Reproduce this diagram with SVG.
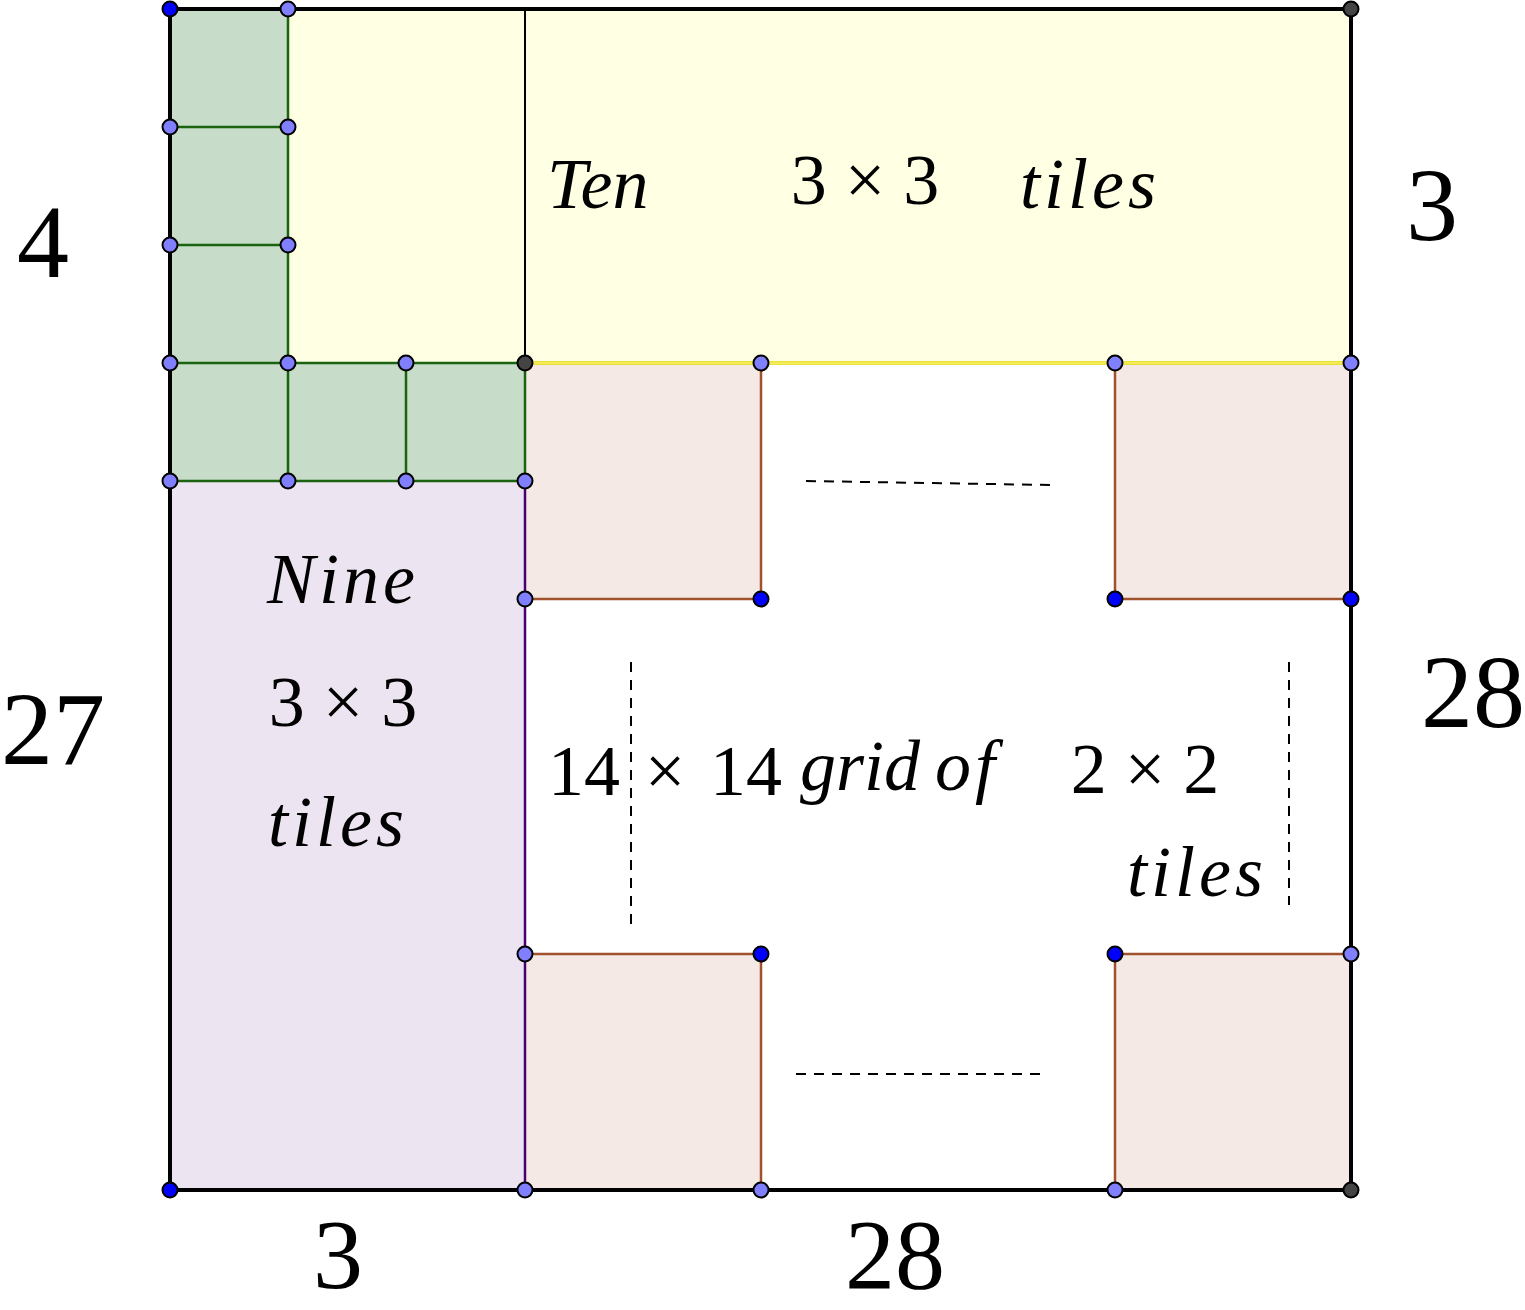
<svg xmlns="http://www.w3.org/2000/svg" width="1525" height="1310" viewBox="0 0 1525 1310">
<style>
.big{font-family:"Liberation Serif","DejaVu Serif",serif;font-size:104px;fill:#000}
.bot{font-size:100px}
.mid{font-family:"Liberation Serif","DejaVu Serif",serif;font-size:72px;fill:#000}
.it{font-style:italic}
.sp{letter-spacing:4px}
.pt{stroke:#000;stroke-width:2}
.lb{fill:#8080ff}
.db{fill:#0000ff}
.dg{fill:#444}
.gr{stroke:#1a6410;stroke-width:2.5;fill:none}
.br{stroke:#a0522d;stroke-width:2.5;fill:none}
.dash{stroke:#000;stroke-width:2;stroke-dasharray:10 8;fill:none}
</style>
<rect width="1525" height="1310" fill="#fff"/>
<g id="fills">
<rect id="yellow" x="288" y="9" width="1063" height="354" fill="#ffffe4"/>
<path id="green" d="M170 9H288V363H525V481H170Z" fill="#c7ddc9"/>
<rect id="lavender" x="170" y="481" width="355" height="709" fill="#ece4f1"/>
<rect id="pink1" x="525" y="363" width="236" height="236" fill="#f4e9e5"/>
<rect id="pink2" x="1115" y="363" width="236" height="236" fill="#f4e9e5"/>
<rect id="pink3" x="525" y="954" width="236" height="236" fill="#f4e9e5"/>
<rect id="pink4" x="1115" y="954" width="236" height="236" fill="#f4e9e5"/>
</g>
<g id="connectors">
<line x1="525" y1="9" x2="525" y2="363" stroke="#000" stroke-width="2"/>
<line x1="525" y1="363" x2="1351" y2="363" stroke="#e6d800" stroke-width="3.5"/>
<line x1="525" y1="363" x2="1351" y2="363" stroke="#ffffb0" stroke-width="1"/>
<path class="gr" d="M288 9V481M170 127H288M170 245H288M170 363H525M170 481H525M406 363V481M525 363V481"/>
<line x1="525" y1="481" x2="525" y2="1190" stroke="#4b0070" stroke-width="2.5"/>
<path class="br" d="M761 363V599H525M1115 363V599H1351M525 954H761V1190M1351 954H1115V1190"/>
<path d="M170 9H1351V1190H170Z" fill="none" stroke="#000" stroke-width="4"/>
<line class="dash" x1="806" y1="481" x2="1050" y2="485"/>
<line class="dash" x1="796" y1="1074" x2="1041" y2="1074"/>
<line class="dash" x1="631" y1="662" x2="631" y2="925"/>
<line class="dash" x1="1289" y1="662" x2="1289" y2="905"/>
</g>
<g id="points">
<circle class="pt db" cx="170" cy="9" r="7.5"/>
<circle class="pt lb" cx="288" cy="9" r="7.5"/>
<circle class="pt dg" cx="1351" cy="9" r="7.5"/>
<circle class="pt lb" cx="170" cy="127" r="7.5"/>
<circle class="pt lb" cx="288" cy="127" r="7.5"/>
<circle class="pt lb" cx="170" cy="245" r="7.5"/>
<circle class="pt lb" cx="288" cy="245" r="7.5"/>
<circle class="pt lb" cx="170" cy="363" r="7.5"/>
<circle class="pt lb" cx="288" cy="363" r="7.5"/>
<circle class="pt lb" cx="406" cy="363" r="7.5"/>
<circle class="pt dg" cx="525" cy="363" r="7.5"/>
<circle class="pt lb" cx="761" cy="363" r="7.5"/>
<circle class="pt lb" cx="1115" cy="363" r="7.5"/>
<circle class="pt lb" cx="1351" cy="363" r="7.5"/>
<circle class="pt lb" cx="170" cy="481" r="7.5"/>
<circle class="pt lb" cx="288" cy="481" r="7.5"/>
<circle class="pt lb" cx="406" cy="481" r="7.5"/>
<circle class="pt lb" cx="525" cy="481" r="7.5"/>
<circle class="pt lb" cx="525" cy="599" r="7.5"/>
<circle class="pt db" cx="761" cy="599" r="7.5"/>
<circle class="pt db" cx="1115" cy="599" r="7.5"/>
<circle class="pt db" cx="1351" cy="599" r="7.5"/>
<circle class="pt lb" cx="525" cy="954" r="7.5"/>
<circle class="pt db" cx="761" cy="954" r="7.5"/>
<circle class="pt db" cx="1115" cy="954" r="7.5"/>
<circle class="pt lb" cx="1351" cy="954" r="7.5"/>
<circle class="pt db" cx="170" cy="1190" r="7.5"/>
<circle class="pt lb" cx="525" cy="1190" r="7.5"/>
<circle class="pt lb" cx="761" cy="1190" r="7.5"/>
<circle class="pt lb" cx="1115" cy="1190" r="7.5"/>
<circle class="pt dg" cx="1351" cy="1190" r="7.5"/>
</g>
<g id="labels">
<text class="big" x="43" y="277" text-anchor="middle">4</text>
<text class="big" x="53" y="764" text-anchor="middle">27</text>
<text class="big" x="1432" y="240" text-anchor="middle">3</text>
<text class="big" x="1473" y="727" text-anchor="middle">28</text>
<text class="big bot" x="338" y="1288" text-anchor="middle">3</text>
<text class="big bot" x="895" y="1288" text-anchor="middle">28</text>
</g>
<g id="ten-text" fill="#1a1a00">
<text class="mid it" x="547" y="208">Ten</text>
<text class="mid" x="865" y="204" text-anchor="middle">3 × 3</text>
<text class="mid it sp" x="1020" y="208">tiles</text>
</g>
<g id="nine-text">
<text class="mid it sp" x="343" y="603" text-anchor="middle" fill="#1a0020">Nine</text>
<text class="mid" x="343" y="726" text-anchor="middle" fill="#1a0020">3 × 3</text>
<text class="mid it sp" x="338" y="846" text-anchor="middle" fill="#1a0020">tiles</text>
</g>
<g id="grid-text">
<text class="mid" x="548" y="795">14</text>
<text class="mid" x="665" y="795" text-anchor="middle">×</text>
<text class="mid" x="710" y="795">14</text>
<text class="mid it" x="800" y="790">grid</text>
<text class="mid it sp" x="935" y="790">of</text>
<text class="mid" x="1145" y="793" text-anchor="middle">2 × 2</text>
<text class="mid it sp" x="1127" y="896">tiles</text>
</g>
</svg>
